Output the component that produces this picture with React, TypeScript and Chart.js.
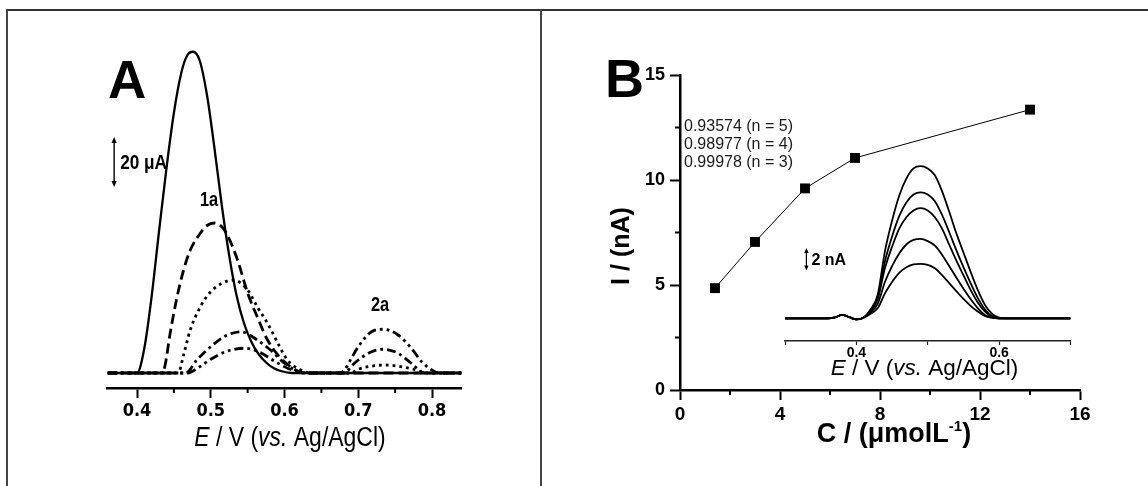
import React, { useEffect, useRef } from "react";
import { Chart, registerables } from "chart.js";
Chart.register(...registerables);

const PAGE_W = 1148;
const PAGE_H = 486;
const SANS = "'Liberation Sans', Arial, Helvetica, sans-serif";
const NARROW = "'Liberation Sans Narrow', 'Arial Narrow', 'DejaVu Sans Condensed', sans-serif";
const NARROW_SX = 0.82; // horizontal squeeze used to imitate a narrow face

// ---------------- Panel A : DPV curves (E / V vs. I / µA) ----------------
const A_X_TICKS = [0.4, 0.5, 0.6, 0.7, 0.8];
const A_X_LABELS = ["0.4", "0.5", "0.6", "0.7", "0.8"];
const A_X_MINOR = [0.45, 0.55, 0.65, 0.75];

// solid
const A1_E = [0.36, 0.39, 0.4, 0.41, 0.42, 0.43, 0.44, 0.45, 0.46, 0.468, 0.476, 0.485, 0.495, 0.505, 0.515, 0.525, 0.535, 0.545, 0.555, 0.565, 0.575, 0.585, 0.595, 0.61, 0.7, 0.84];
const A1_I = [0, 0, 0, 10, 31, 57, 82, 104, 120, 127, 128.5, 125, 111, 90, 67, 47, 31, 20, 12.5, 7.5, 4.2, 2, 0.8, 0, 0, 0];
// dashed
const A2_E = [0.36, 0.434, 0.438, 0.445, 0.454, 0.463, 0.472, 0.486, 0.495, 0.505, 0.515, 0.522, 0.536, 0.55, 0.563, 0.577, 0.591, 0.604, 0.615, 0.627, 0.84];
const A2_I = [0, 0, 3, 16, 30, 41, 49, 56, 59, 60, 58.5, 55.5, 45.5, 32, 22.5, 13.2, 7.2, 3.5, 1.2, 0, 0];
// dotted
const A3_E = [0.36, 0.456, 0.463, 0.472, 0.486, 0.5, 0.518, 0.531, 0.55, 0.563, 0.577, 0.591, 0.604, 0.622, 0.636, 0.69, 0.7, 0.715, 0.736, 0.755, 0.775, 0.795, 0.84];
const A3_I = [0, 0, 7, 17, 26.5, 32.5, 36.3, 37.2, 33.2, 26.5, 19.9, 11.9, 5.2, 1.2, 0, 0, 1.5, 2.6, 3.2, 2.7, 1.5, 0, 0];
// dash-dot
const A4_E = [0.36, 0.466, 0.481, 0.5, 0.518, 0.541, 0.563, 0.581, 0.6, 0.618, 0.632, 0.682, 0.69, 0.7, 0.718, 0.734, 0.754, 0.772, 0.79, 0.84];
const A4_I = [0, 0, 5.2, 10.5, 14.5, 16.5, 13.2, 9.2, 3.9, 0.7, 0, 0, 2.5, 5.2, 8.5, 9.5, 7.9, 3.9, 0, 0];
// dash-dot-dot
const A5_E = [0.36, 0.468, 0.485, 0.5, 0.52, 0.545, 0.565, 0.585, 0.605, 0.627, 0.675, 0.682, 0.69, 0.7, 0.718, 0.734, 0.754, 0.772, 0.786, 0.8, 0.81, 0.84];
const A5_I = [0, 0, 2.5, 5.5, 8.5, 9.9, 8.5, 5, 1.8, 0, 0, 1.5, 5.5, 10.5, 16.5, 17.5, 15.2, 9.9, 4.5, 1.2, 0, 0];

const A_LABEL_1 = "1a";
const A_LABEL_2 = "2a";
const A_SCALE_TEXT = "20 μA";
const A_SCALE_UA = 20;

// ---------------- Panel B : calibration ----------------
const B_C = [1.4, 3.0, 5.0, 7.0, 14.0];
const B_I = [4.85, 7.05, 9.6, 11.05, 13.35];
const B_X_TICKS = [0, 4, 8, 12, 16];
const B_X_MINOR = [2, 6, 10, 14];
const B_Y_TICKS = [0, 5, 10, 15];
const B_Y_MINOR = [2.5, 7.5, 12.5];
const B_NOTES = ["0.93574 (n = 5)", "0.98977 (n = 4)", "0.99978 (n = 3)"];

// ---------------- Inset of B : DPV curves (E / V vs. I / nA) ----------------
const IN_E = [0.3, 0.36, 0.37, 0.38, 0.39, 0.4, 0.41, 0.42, 0.43, 0.44, 0.45, 0.46, 0.47, 0.48, 0.49, 0.5, 0.51, 0.52, 0.53, 0.54, 0.55, 0.56, 0.57, 0.58, 0.59, 0.6, 0.61, 0.7];
const IN_1 = [0, 0, 0.08, 0.3, 0.1, -0.1, 0.05, 0.8, 2.1, 5.9, 8.6, 10.8, 12.3, 13.2, 13.4, 13.2, 12.6, 11.2, 9.4, 7.5, 5.8, 4.1, 2.5, 1.2, 0.4, 0.05, 0, 0];
const IN_2 = [0, 0, 0.08, 0.3, 0.1, -0.1, 0.05, 0.7, 1.9, 5.0, 7.2, 9.0, 10.2, 10.9, 11.1, 10.9, 10.3, 9.1, 7.6, 6.0, 4.5, 3.1, 1.8, 0.8, 0.2, 0, 0, 0];
const IN_3 = [0, 0, 0.08, 0.3, 0.1, -0.1, 0.05, 0.6, 1.7, 4.4, 6.3, 7.9, 8.9, 9.5, 9.7, 9.5, 8.9, 7.9, 6.5, 5.1, 3.8, 2.5, 1.4, 0.6, 0.1, 0, 0, 0];
const IN_4 = [0, 0, 0.08, 0.3, 0.1, -0.1, 0.05, 0.5, 1.3, 3.2, 4.6, 5.7, 6.5, 6.9, 7.0, 6.8, 6.4, 5.6, 4.6, 3.6, 2.6, 1.7, 0.9, 0.3, 0.05, 0, 0, 0];
const IN_5 = [0, 0, 0.08, 0.3, 0.1, -0.1, 0.05, 0.4, 0.9, 2.2, 3.2, 4.0, 4.5, 4.75, 4.8, 4.7, 4.4, 3.8, 3.1, 2.4, 1.7, 1.1, 0.6, 0.2, 0.05, 0, 0, 0];
const IN_X_TICKS = [0.3, 0.4, 0.5, 0.6, 0.7];
const IN_X_LABELS = ["", "0.4", "", "0.6", ""];
const IN_SCALE_TEXT = "2 nA";
const IN_SCALE_NA = 2;

// ---------------- layout (page pixels) ----------------
const A_AREA = { l: 107.5, r: 461.5, t: 38, b: 388 };
const B_AREA = { l: 680, r: 1080, t: 75, b: 390 };
const IN_AREA = { l: 785, r: 1070.5, t: 148, b: 341 };

const pts = (xs: number[], ys: number[]) => xs.map((x, i) => ({ x, y: ys[i] }));

type Seg = { t: string; it?: boolean; size?: number; dy?: number };
function drawRich(ctx: CanvasRenderingContext2D, segs: Seg[], cx: number, baseline: number, size: number, weight: string, family: string, sx = 1) {
  const fontOf = (s: Seg) => `${s.it ? "italic " : ""}${weight} ${s.size || size}px ${family}`;
  let total = 0;
  const widths = segs.map((s) => {
    ctx.font = fontOf(s);
    const w = ctx.measureText(s.t).width * sx;
    total += w;
    return w;
  });
  let x = cx - total / 2;
  ctx.textAlign = "left";
  ctx.textBaseline = "alphabetic";
  segs.forEach((s, i) => {
    ctx.font = fontOf(s);
    ctx.save();
    ctx.translate(x, baseline - (s.dy || 0));
    ctx.scale(sx, 1);
    ctx.fillText(s.t, 0, 0);
    ctx.restore();
    x += widths[i];
  });
}

function fillSqueezed(ctx: CanvasRenderingContext2D, text: string, x: number, y: number, sx: number, align: CanvasTextAlign, baseline: CanvasTextBaseline) {
  ctx.save();
  ctx.textAlign = align;
  ctx.textBaseline = baseline;
  ctx.translate(x, y);
  ctx.scale(sx, 1);
  ctx.fillText(text, 0, 0);
  ctx.restore();
}

function drawDoubleArrow(ctx: CanvasRenderingContext2D, x: number, yTop: number, yBot: number, head: number, half: number, lw: number) {
  ctx.save();
  ctx.strokeStyle = "#000";
  ctx.fillStyle = "#000";
  ctx.lineWidth = lw;
  ctx.beginPath();
  ctx.moveTo(x, yTop + head - 1);
  ctx.lineTo(x, yBot - head + 1);
  ctx.stroke();
  ctx.beginPath();
  ctx.moveTo(x, yTop);
  ctx.lineTo(x - half, yTop + head);
  ctx.lineTo(x + half, yTop + head);
  ctx.closePath();
  ctx.fill();
  ctx.beginPath();
  ctx.moveTo(x, yBot);
  ctx.lineTo(x - half, yBot - head);
  ctx.lineTo(x + half, yBot - head);
  ctx.closePath();
  ctx.fill();
  ctx.restore();
}

function drawMinor(chart: any, axis: string, values: number[], len: number, width: number) {
  const s = chart.scales[axis];
  const ctx = chart.ctx as CanvasRenderingContext2D;
  ctx.save();
  ctx.strokeStyle = "#000";
  ctx.lineWidth = width;
  values.forEach((v) => {
    const p = s.getPixelForValue(v);
    ctx.beginPath();
    if (s.isHorizontal()) {
      ctx.moveTo(p, s.top);
      ctx.lineTo(p, s.top + len);
    } else {
      ctx.moveTo(s.right, p);
      ctx.lineTo(s.right - len, p);
    }
    ctx.stroke();
  });
  ctx.restore();
}

const baseOptions = {
  responsive: false,
  maintainAspectRatio: false,
  animation: false as const,
  devicePixelRatio: 1,
  events: [] as any[],
  plugins: { legend: { display: false }, tooltip: { enabled: false }, title: { display: false } },
};

function configA(): any {
  const curve = (xs: number[], ys: number[], dash: number[], w: number) => ({
    data: pts(xs, ys),
    borderColor: "#000",
    borderWidth: w,
    borderDash: dash,
    borderCapStyle: "butt",
    pointRadius: 0,
    cubicInterpolationMode: "monotone",
    fill: false,
  });
  const deco = {
    id: "decoA",
    afterDraw(chart: any) {
      const ctx = chart.ctx as CanvasRenderingContext2D;
      const xs = chart.scales.x;
      const ys = chart.scales.y;
      drawMinor(chart, "x", A_X_MINOR, 5, 2);
      ctx.save();
      ctx.fillStyle = "#000";
      ctx.font = `bold 53px ${SANS}`;
      ctx.textAlign = "left";
      ctx.textBaseline = "alphabetic";
      ctx.fillText("A", 108, 98);
      // scale bar (20 µA)
      const ax = xs.getPixelForValue(0.369);
      const y1 = ys.getPixelForValue(74.4 + A_SCALE_UA);
      const y2 = ys.getPixelForValue(74.4);
      drawDoubleArrow(ctx, ax, y1, y2, 6, 2.6, 1.4);
      ctx.font = `bold 21px ${SANS}`;
      fillSqueezed(ctx, A_SCALE_TEXT, ax + 6, (y1 + y2) / 2 + 1, NARROW_SX, "left", "middle");
      ctx.font = `bold 20px ${SANS}`;
      fillSqueezed(ctx, A_LABEL_1, 209, 200.5, NARROW_SX, "center", "middle");
      fillSqueezed(ctx, A_LABEL_2, 380, 305.5, NARROW_SX, "center", "middle");
      drawRich(ctx, [{ t: "E", it: true }, { t: " / V (" }, { t: "vs.", it: true }, { t: " Ag/AgCl)" }], 290, 446, 27, "normal", SANS, 0.85);
      ctx.restore();
    },
  };
  return {
    type: "line",
    data: {
      datasets: [
        curve(A1_E, A1_I, [], 2.3),
        curve(A2_E, A2_I, [10, 5], 2.8),
        curve(A3_E, A3_I, [2.8, 4], 2.8),
        curve(A4_E, A4_I, [9, 4, 2.8, 4], 2.8),
        curve(A5_E, A5_I, [9, 4, 2.8, 4, 2.8, 4], 2.8),
      ],
    },
    options: {
      ...baseOptions,
      layout: { padding: { left: A_AREA.l, right: PAGE_W - A_AREA.r, top: A_AREA.t, bottom: PAGE_H - A_AREA.b - 40 } },
      scales: {
        x: {
          type: "linear",
          min: 0.36,
          max: 0.84,
          afterBuildTicks: (s: any) => {
            s.ticks = A_X_TICKS.map((v) => ({ value: v }));
          },
          afterFit: (s: any) => {
            s.height = 40;
          },
          ticks: {
            callback: (_v: any, i: number) => A_X_LABELS[i],
            font: { family: NARROW, size: 18, weight: "bold" },
            color: "#000",
            padding: 3,
            maxRotation: 0,
            autoSkip: false,
          },
          grid: { display: true, drawOnChartArea: false, drawTicks: true, tickLength: 10, tickWidth: 2, tickColor: "#000" },
          border: { display: true, color: "#000", width: 2.5 },
        },
        y: { type: "linear", display: false, min: -6, max: 134 },
      },
    },
    plugins: [deco],
  };
}

function configB(): any {
  const deco = {
    id: "decoB",
    afterDraw(chart: any) {
      const ctx = chart.ctx as CanvasRenderingContext2D;
      drawMinor(chart, "x", B_X_MINOR, 5, 2);
      drawMinor(chart, "y", B_Y_MINOR, 5, 2);
      ctx.save();
      ctx.fillStyle = "#000";
      ctx.textAlign = "left";
      ctx.textBaseline = "alphabetic";
      ctx.font = `bold 54px ${SANS}`;
      ctx.fillText("B", 605, 97);
      ctx.fillStyle = "#1a1a1a";
      ctx.font = `normal 16px ${SANS}`;
      B_NOTES.forEach((t, i) => ctx.fillText(t, 684, 131 + i * 18));
      ctx.fillStyle = "#000";
      drawRich(ctx, [{ t: "C / (μmolL" }, { t: "-1", size: 15, dy: 11 }, { t: ")" }], 894, 442, 27, "bold", SANS);
      ctx.translate(622, 246);
      ctx.rotate(-Math.PI / 2);
      ctx.textAlign = "center";
      ctx.textBaseline = "middle";
      ctx.font = `bold 25px ${SANS}`;
      ctx.fillText("I / (nA)", 0, 0);
      ctx.restore();
    },
  };
  const tickFont = { family: SANS, size: 18, weight: "bold" };
  return {
    type: "line",
    data: {
      datasets: [
        {
          data: pts(B_C, B_I),
          borderColor: "#000",
          borderWidth: 1,
          pointStyle: "rect",
          pointRadius: 7,
          pointBackgroundColor: "#000",
          pointBorderColor: "#000",
          pointBorderWidth: 0,
          tension: 0,
          clip: false,
        },
      ],
    },
    options: {
      ...baseOptions,
      layout: { padding: { left: B_AREA.l - 60, right: PAGE_W - B_AREA.r, top: B_AREA.t, bottom: PAGE_H - B_AREA.b - 40 } },
      scales: {
        x: {
          type: "linear",
          min: 0,
          max: 16,
          afterBuildTicks: (s: any) => {
            s.ticks = B_X_TICKS.map((v) => ({ value: v }));
          },
          afterFit: (s: any) => {
            s.height = 40;
          },
          ticks: { callback: (v: any) => String(v), font: { ...tickFont, size: 19 }, color: "#000", padding: 3, maxRotation: 0, autoSkip: false },
          grid: { display: true, drawOnChartArea: false, drawTicks: true, tickLength: 10, tickWidth: 2, tickColor: "#000" },
          border: { display: true, color: "#000", width: 2.5 },
        },
        y: {
          type: "linear",
          min: 0,
          max: 15,
          afterBuildTicks: (s: any) => {
            s.ticks = B_Y_TICKS.map((v) => ({ value: v }));
          },
          afterFit: (s: any) => {
            s.width = 60;
          },
          ticks: { callback: (v: any) => String(v), font: tickFont, color: "#000", padding: 5, autoSkip: false },
          grid: { display: true, drawOnChartArea: false, drawTicks: true, tickLength: 10, tickWidth: 2, tickColor: "#000" },
          border: { display: true, color: "#000", width: 2.5 },
        },
      },
    },
    plugins: [deco],
  };
}

function configInset(): any {
  const curve = (ys: number[]) => ({
    data: pts(IN_E, ys),
    borderColor: "#000",
    borderWidth: 1.8,
    pointRadius: 0,
    cubicInterpolationMode: "monotone",
    fill: false,
  });
  const deco = {
    id: "decoIn",
    afterDraw(chart: any) {
      const ctx = chart.ctx as CanvasRenderingContext2D;
      const xs = chart.scales.x;
      const ys = chart.scales.y;
      ctx.save();
      ctx.fillStyle = "#000";
      const ax = xs.getPixelForValue(0.33);
      const y1 = ys.getPixelForValue(4.2 + IN_SCALE_NA);
      const y2 = ys.getPixelForValue(4.2);
      drawDoubleArrow(ctx, ax, y1, y2, 5, 2.2, 1.2);
      ctx.font = `bold 16px ${SANS}`;
      ctx.textAlign = "left";
      ctx.textBaseline = "middle";
      ctx.fillText(IN_SCALE_TEXT, ax + 5, (y1 + y2) / 2 + 1);
      drawRich(ctx, [{ t: "E", it: true }, { t: " / V (" }, { t: "vs.", it: true }, { t: " Ag/AgCl)" }], 924.5, 375, 22.5, "normal", SANS);
      ctx.restore();
    },
  };
  return {
    type: "line",
    data: { datasets: [curve(IN_1), curve(IN_2), curve(IN_3), curve(IN_4), curve(IN_5)] },
    options: {
      ...baseOptions,
      layout: { padding: { left: IN_AREA.l, right: PAGE_W - IN_AREA.r, top: IN_AREA.t, bottom: PAGE_H - IN_AREA.b - 30 } },
      scales: {
        x: {
          type: "linear",
          min: 0.3,
          max: 0.7,
          afterBuildTicks: (s: any) => {
            s.ticks = IN_X_TICKS.map((v) => ({ value: v }));
          },
          afterFit: (s: any) => {
            s.height = 30;
          },
          ticks: {
            callback: (_v: any, i: number) => IN_X_LABELS[i],
            font: { family: SANS, size: 14, weight: "bold" },
            color: "#000",
            padding: 0,
            maxRotation: 0,
            autoSkip: false,
          },
          grid: { display: true, drawOnChartArea: false, drawTicks: true, tickLength: 4, tickWidth: 1.2, tickColor: "#222" },
          border: { display: true, color: "#222", width: 1.5 },
        },
        y: { type: "linear", display: false, min: -2, max: 15 },
      },
    },
    plugins: [deco],
  };
}

export default function App() {
  const aRef = useRef<HTMLCanvasElement>(null);
  const bRef = useRef<HTMLCanvasElement>(null);
  const iRef = useRef<HTMLCanvasElement>(null);

  useEffect(() => {
    const charts: Chart[] = [];
    if (aRef.current) charts.push(new Chart(aRef.current, configA()));
    if (bRef.current) charts.push(new Chart(bRef.current, configB()));
    if (iRef.current) charts.push(new Chart(iRef.current, configInset()));
    return () => charts.forEach((c) => c.destroy());
  }, []);

  const cv: React.CSSProperties = { position: "absolute", left: 0, top: 0, width: PAGE_W, height: PAGE_H };
  return (
    <div style={{ position: "fixed", left: 0, top: 0, width: PAGE_W, height: PAGE_H, background: "#fff", overflow: "hidden" }}>
      <div style={{ position: "absolute", left: 6, top: 9, width: PAGE_W - 6, height: 2, background: "#333" }} />
      <div style={{ position: "absolute", left: 6, top: 9, width: 2, height: PAGE_H - 9, background: "#444" }} />
      <div style={{ position: "absolute", left: 540, top: 9, width: 1.5, height: PAGE_H - 9, background: "#444" }} />
      <canvas ref={aRef} width={PAGE_W} height={PAGE_H} style={cv} />
      <canvas ref={bRef} width={PAGE_W} height={PAGE_H} style={cv} />
      <canvas ref={iRef} width={PAGE_W} height={PAGE_H} style={cv} />
    </div>
  );
}
